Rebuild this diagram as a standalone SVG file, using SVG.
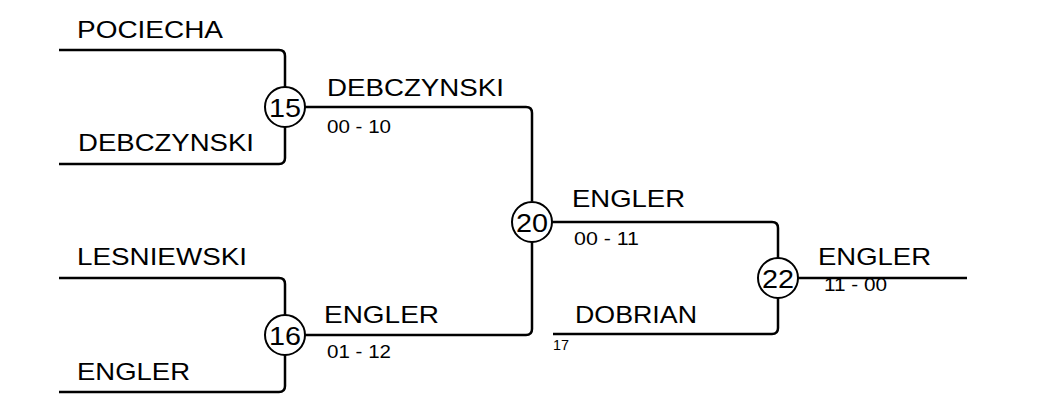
<svg xmlns="http://www.w3.org/2000/svg" width="1050" height="394" viewBox="0 0 1050 394">
<style>
.ln{fill:none;stroke:#000;stroke-width:2.5;stroke-linejoin:round}
.nm{font-family:"Liberation Sans",Arial,sans-serif;font-size:24px;fill:#000}
.sc{font-family:"Liberation Sans",Arial,sans-serif;font-size:18px;fill:#000}
.sm{font-family:"Liberation Sans",Arial,sans-serif;font-size:15px;fill:#000}
.cr{fill:#fff;stroke:#000;stroke-width:2}
.cn{font-family:"Liberation Sans",Arial,sans-serif;font-size:26px;fill:#000;text-anchor:middle}
</style>
<rect width="1050" height="394" fill="#fff"/>
<g id="connectors">
<path class="ln" d="M59,50 H279 Q285,50 285,56 V87"/>
<path class="ln" d="M59,164 H279 Q285,164 285,158 V127"/>
<path class="ln" d="M305,107 H526 Q532,107 532,113 V201"/>
<path class="ln" d="M59,278 H279 Q285,278 285,284 V315"/>
<path class="ln" d="M59,392 H279 Q285,392 285,386 V355"/>
<path class="ln" d="M305,335 H526 Q532,335 532,329 V242"/>
<path class="ln" d="M552,222 H772 Q778,222 778,228 V258"/>
<path class="ln" d="M553,334 H772 Q778,334 778,328 V298"/>
<path class="ln" d="M798,278 H967"/>
</g>
<g id="labels">
<text class="nm" x="77" y="38" textLength="146" lengthAdjust="spacingAndGlyphs">POCIECHA</text>
<text class="nm" x="78" y="151" textLength="176" lengthAdjust="spacingAndGlyphs">DEBCZYNSKI</text>
<text class="nm" x="77" y="265" textLength="170" lengthAdjust="spacingAndGlyphs">LESNIEWSKI</text>
<text class="nm" x="77" y="380" textLength="113" lengthAdjust="spacingAndGlyphs">ENGLER</text>
<text class="nm" x="327" y="96" textLength="177" lengthAdjust="spacingAndGlyphs">DEBCZYNSKI</text>
<text class="sc" x="327" y="133" textLength="64" lengthAdjust="spacingAndGlyphs">00 - 10</text>
<text class="nm" x="324" y="323" textLength="115" lengthAdjust="spacingAndGlyphs">ENGLER</text>
<text class="sc" x="327" y="358" textLength="64" lengthAdjust="spacingAndGlyphs">01 - 12</text>
<text class="nm" x="572" y="207" textLength="113" lengthAdjust="spacingAndGlyphs">ENGLER</text>
<text class="sc" x="574" y="245" textLength="65" lengthAdjust="spacingAndGlyphs">00 - 11</text>
<text class="nm" x="575" y="323" textLength="122" lengthAdjust="spacingAndGlyphs">DOBRIAN</text>
<text class="sm" x="553" y="350" textLength="16" lengthAdjust="spacingAndGlyphs">17</text>
<text class="nm" x="818" y="265" textLength="113" lengthAdjust="spacingAndGlyphs">ENGLER</text>
<text class="sc" x="824" y="291" textLength="63" lengthAdjust="spacingAndGlyphs">11 - 00</text>
</g>
<g id="m15"><circle class="cr" cx="285" cy="107" r="20"/><text class="cn" x="285" y="116.5" textLength="32" lengthAdjust="spacingAndGlyphs">15</text></g>
<g id="m16"><circle class="cr" cx="285" cy="335" r="20"/><text class="cn" x="285" y="344.5" textLength="32" lengthAdjust="spacingAndGlyphs">16</text></g>
<g id="m20"><circle class="cr" cx="532" cy="222" r="20"/><text class="cn" x="532" y="231.5" textLength="32" lengthAdjust="spacingAndGlyphs">20</text></g>
<g id="m22"><circle class="cr" cx="778" cy="278" r="20"/><text class="cn" x="778" y="287.5" textLength="32" lengthAdjust="spacingAndGlyphs">22</text></g>
</svg>
